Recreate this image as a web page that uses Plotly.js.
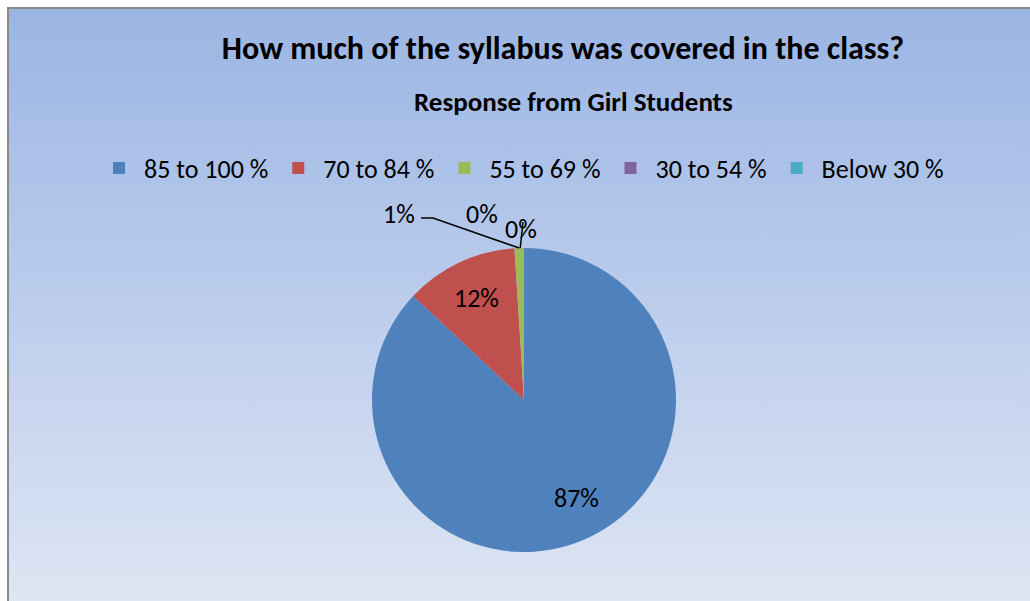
<!DOCTYPE html>
<html>
<head>
<meta charset="utf-8">
<script src="https://cdn.plot.ly/plotly-3.0.1.min.js"></script>
<style>
  html, body { margin: 0; padding: 0; background: #ffffff; }
  #bg {
    position: absolute; left: 7px; top: 7px; width: 1021px; height: 600px;
    border-left: 2px solid #8a8a8a; border-top: 2px solid #8a8a8a;
    background: linear-gradient(to bottom, #9bb5e3 0%, #b9cbec 45%, #dfe6f4 100%);
  }
  #chart { position: absolute; left: 0; top: 0; width: 1030px; height: 601px; }
</style>
</head>
<body>
<div id="bg"></div>
<div id="chart"></div>
<script>
const categories = ["85 to 100 %", "70 to 84 %", "55 to 69 %", "30 to 54 %", "Below 30 %"];
const values = [87, 12, 1, 0, 0];
const percentLabels = ["87%", "12%", "1%", "0%", "0%"];
const colors = ["#4f81bd", "#c0504d", "#9bbb59", "#8064a2", "#4bacc6"];

const W = 1030, H = 601;
const cx = 524, cy = 400, R = 152;
const px = x => x / W;
const py = y => 1 - y / H;

const font = "Calibri, Carlito, 'Liberation Sans Narrow', 'Open Sans', sans-serif";

const total = values.reduce((a, b) => a + b, 0);
function midAngle(i) {
  let before = 0;
  for (let k = 0; k < i; k++) before += values[k];
  return (before + values[i] / 2) / total * 2 * Math.PI;
}
function polar(i, rr) {
  const a = midAngle(i);
  return [cx + rr * Math.sin(a), cy - rr * Math.cos(a)];
}

const trace = {
  type: "pie",
  labels: categories,
  values: values,
  marker: { colors: colors, line: { width: 0 } },
  sort: false,
  direction: "clockwise",
  rotation: 0,
  textinfo: "none",
  hoverinfo: "label+percent",
  domain: { x: [px(cx - R), px(cx + R)], y: [py(cy + R), py(cy - R)] },
  showlegend: true
};

const gp = polar(2, R);
const shapes = [
  { type: "path", xref: "paper", yref: "paper",
    path: `M ${px(421)} ${py(218)} L ${px(433)} ${py(218)} L ${px(gp[0])} ${py(gp[1])}`,
    line: { color: "#000000", width: 1.5 } },
  { type: "line", xref: "paper", yref: "paper",
    x0: px(gp[0] + 1), y0: py(gp[1]), x1: px(523), y1: py(222),
    line: { color: "#000000", width: 1.5 } }
];

const labFont = { family: font, size: 26, color: "#000000" };
const p87 = polar(0, 0.73 * R);
const p12 = polar(1, 0.73 * R);
const annotations = [
  { text: "Response from Girl Students", xref: "paper", yref: "paper",
    x: px(573), y: py(102), xanchor: "center", yanchor: "middle", showarrow: false,
    font: { family: font, size: 27, color: "#000000", weight: "bold" } },
  { text: percentLabels[0], xref: "paper", yref: "paper", x: px(p87[0] + 8), y: py(p87[1] - 4),
    xanchor: "center", yanchor: "middle", showarrow: false, font: labFont },
  { text: percentLabels[1], xref: "paper", yref: "paper", x: px(p12[0]), y: py(p12[1] - 2),
    xanchor: "center", yanchor: "middle", showarrow: false, font: labFont },
  { text: percentLabels[2], xref: "paper", yref: "paper", x: px(399), y: py(214),
    xanchor: "center", yanchor: "middle", showarrow: false, font: labFont },
  { text: percentLabels[3], xref: "paper", yref: "paper", x: px(482), y: py(214),
    xanchor: "center", yanchor: "middle", showarrow: false, font: labFont },
  { text: percentLabels[4], xref: "paper", yref: "paper", x: px(521), y: py(229),
    xanchor: "center", yanchor: "middle", showarrow: false, font: labFont }
];

const layout = {
  width: W, height: H,
  margin: { l: 0, r: 0, t: 0, b: 0 },
  paper_bgcolor: "rgba(0,0,0,0)",
  plot_bgcolor: "rgba(0,0,0,0)",
  title: { text: "How much of the syllabus was covered in the class?",
    x: px(563), xanchor: "center", y: py(48), yanchor: "middle",
    font: { family: font, size: 32, color: "#000000", weight: "bold" } },
  showlegend: true,
  legend: { orientation: "h", x: px(94), xanchor: "left", y: py(168), yanchor: "middle",
    font: { family: font, size: 26, color: "#000000" },
    bgcolor: "rgba(0,0,0,0)", traceorder: "normal", itemwidth: 40 },
  shapes: shapes,
  annotations: annotations
};

Plotly.newPlot("chart", [trace], layout, { displayModeBar: false, staticPlot: true });
</script>
</body>
</html>
